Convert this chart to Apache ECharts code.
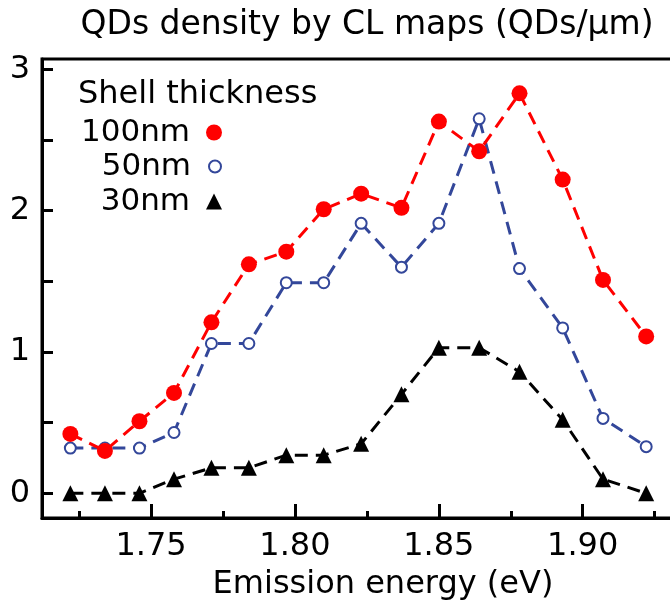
<!DOCTYPE html>
<html>
<head>
<meta charset="utf-8">
<script src="https://cdn.jsdelivr.net/npm/echarts@6/dist/echarts.min.js"></script>
<style>html,body{margin:0;padding:0;background:#fff}#c{width:670px;height:600px}</style>
</head>
<body>
<div id="c"></div>
<script>
var energies = [1.722, 1.734, 1.746, 1.758, 1.771, 1.784, 1.797, 1.810, 1.823, 1.837, 1.850, 1.864, 1.878, 1.893, 1.907, 1.922];
var shell100 = [0.42, 0.30, 0.51, 0.71, 1.21, 1.62, 1.71, 2.01, 2.12, 2.02, 2.63, 2.42, 2.83, 2.22, 1.51, 1.11];
var shell50  = [0.32, 0.32, 0.32, 0.43, 1.06, 1.06, 1.49, 1.49, 1.91, 1.60, 1.91, 2.65, 1.59, 1.17, 0.53, 0.33];
var shell30  = [0.00, 0.00, 0.00, 0.10, 0.18, 0.18, 0.27, 0.27, 0.35, 0.70, 1.03, 1.03, 0.86, 0.52, 0.10, 0.00];
var xMajor = {min: 1.75, max: 1.90, interval: 0.05};
var xMinor = {min: 1.725, max: 1.925, interval: 0.025};
var yMajor = {min: 0, max: 3, interval: 0.5};
var yLabelStep = 1;
var names = ['100nm', '50nm', '30nm'];

function pairs(ys) { return energies.map(function (e, i) { return [e, ys[i]]; }); }

var FONT = 'DejaVu Sans';
var FS = 32;
var BLUE = '#33479A';
var chart = echarts.init(document.getElementById('c'), null, {renderer: 'canvas'});
var legendBase = {
  orient: 'horizontal', align: 'right', right: 448, padding: 0,
  itemWidth: 16, itemHeight: 16, selectedMode: false,
  textStyle: {fontFamily: FONT, fontSize: 31, color: '#000', padding: [0, 11, 0, 0]}
};
var noAxis = {axisLine: {show: false}, axisTick: {show: false}, axisLabel: {show: false}, splitLine: {show: false}};
chart.setOption({
  animation: false,
  backgroundColor: '#fff',
  title: [
    {text: 'QDs density by CL maps (QDs/μm)', left: 367, textAlign: 'center', top: 9, padding: 0,
     textStyle: {fontFamily: FONT, fontSize: 33, fontWeight: 'normal', color: '#000'}},
    {text: 'Shell thickness', left: 78, top: 79, padding: 0,
     textStyle: {fontFamily: FONT, fontSize: FS, fontWeight: 'normal', color: '#000'}}
  ],
  legend: [
    Object.assign({}, legendBase, {data: [{name: names[0], icon: 'circle'}], top: 117}),
    Object.assign({}, legendBase, {data: [{name: names[1], icon: 'emptyCircle'}], top: 151, itemWidth: 12, itemHeight: 12,
      textStyle: {fontFamily: FONT, fontSize: 31, color: '#000', padding: [0, 13, 0, 0]}}),
    Object.assign({}, legendBase, {data: [{name: names[2], icon: 'triangle'}], top: 186})
  ],
  grid: [
    {left: 42, right: -28, top: 59, bottom: 82, show: true, borderColor: '#000', borderWidth: 3,
     backgroundColor: 'transparent', outerBoundsMode: 'none', containLabel: false},
    {left: 151, right: 87.3, top: 69.3, bottom: 106.7, outerBoundsMode: 'none', containLabel: false},
    {left: 79, right: 15.3, top: 69.3, bottom: 106.7, outerBoundsMode: 'none', containLabel: false}
  ],
  xAxis: [
    {type: 'value', gridIndex: 0, min: 1.71215, max: 1.94,
     name: 'Emission energy (eV)', nameLocation: 'middle', nameGap: 51,
     nameTextStyle: {fontFamily: FONT, fontSize: FS, color: '#000', padding: [0, 0, 0, 26]},
     axisLine: {show: true, onZero: false, lineStyle: {color: '#000', width: 3}},
     axisTick: {show: false}, axisLabel: {show: false}, splitLine: {show: false}},
    {type: 'value', gridIndex: 1, min: xMajor.min, max: xMajor.max, interval: xMajor.interval, position: 'bottom', offset: 24.7,
     axisLine: {show: false, onZero: false},
     axisTick: {show: true, inside: true, length: 14, lineStyle: {color: '#000', width: 3}},
     axisLabel: {show: true, margin: 13, fontFamily: FONT, fontSize: FS, color: '#000',
                 formatter: function (v) { return v.toFixed(2); }},
     splitLine: {show: false}},
    {type: 'value', gridIndex: 2, min: xMinor.min, max: xMinor.max, interval: xMinor.interval, position: 'bottom', offset: 24.7,
     axisLine: {show: false, onZero: false},
     axisTick: {show: true, inside: true, length: 7, lineStyle: {color: '#000', width: 3}},
     axisLabel: {show: false}, splitLine: {show: false}}
  ],
  yAxis: [
    {type: 'value', gridIndex: 0, min: -0.1748, max: 3.073,
     axisLine: {show: true, onZero: false, lineStyle: {color: '#000', width: 3}},
     axisTick: {show: false}, axisLabel: {show: false}, splitLine: {show: false}},
    {type: 'value', gridIndex: 1, min: yMajor.min, max: yMajor.max, interval: yMajor.interval, position: 'left', offset: 109,
     axisLine: {show: false, onZero: false},
     axisTick: {show: true, inside: true, length: 11, lineStyle: {color: '#000', width: 3}},
     axisLabel: {show: true, margin: 12, fontFamily: FONT, fontSize: FS, color: '#000',
                 formatter: function (v) { return (v % yLabelStep === 0) ? String(v) : ''; }},
     splitLine: {show: false}},
    Object.assign({type: 'value', gridIndex: 2, min: 0, max: 3}, noAxis)
  ],
  series: [
    {name: names[2], type: 'line', xAxisIndex: 0, yAxisIndex: 0, data: pairs(shell30), symbol: 'triangle', symbolSize: 16, z: 2,
     itemStyle: {color: '#000'}, lineStyle: {color: '#000', width: 3, type: [13, 8]}},
    {name: names[1], type: 'line', xAxisIndex: 0, yAxisIndex: 0, data: pairs(shell50), symbol: 'emptyCircle', symbolSize: 11, z: 3,
     itemStyle: {color: BLUE, borderColor: BLUE, borderWidth: 2.5}, lineStyle: {color: BLUE, width: 3, type: [13, 8]}},
    {name: names[0], type: 'line', xAxisIndex: 0, yAxisIndex: 0, data: pairs(shell100), symbol: 'circle', symbolSize: 16, z: 4,
     itemStyle: {color: '#FF0000'}, lineStyle: {color: '#FF0000', width: 3, type: [13, 8]}}
  ]
});
</script>
</body>
</html>
